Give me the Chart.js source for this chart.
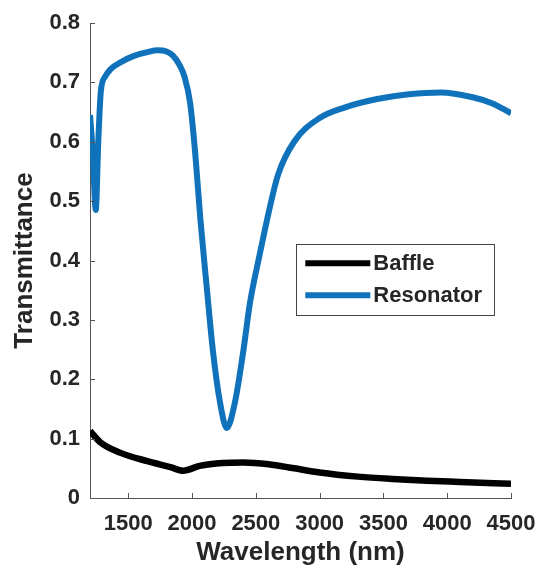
<!DOCTYPE html>
<html>
<head>
<meta charset="utf-8">
<title>Transmittance</title>
<script src="https://cdn.jsdelivr.net/npm/chart.js@4.4.1/dist/chart.umd.min.js"></script>
<style>
  html, body { margin: 0; padding: 0; background: #fff; }
  #wrap { width: 537px; height: 574px; }
</style>
</head>
<body>
<div id="wrap"><canvas id="chart" width="537" height="574"></canvas></div>
<script>
// transmittance spectra, wavelength in nm
const baffleWavelength = [1200, 1280, 1440, 1650, 1830, 1930, 2060, 2240, 2400, 2600, 2800, 3000, 3300, 3570, 3840, 4100, 4500];
const baffleT = [0.113, 0.094, 0.076, 0.062, 0.052, 0.046, 0.054, 0.059, 0.060, 0.057, 0.050, 0.043, 0.036, 0.032, 0.029, 0.027, 0.024];

const resonatorWavelength = [1200, 1222, 1245, 1265, 1285, 1320, 1360, 1450, 1550, 1650, 1730, 1800, 1850, 1900, 1940, 1985, 2025, 2065, 2115, 2165, 2220, 2272, 2335, 2400, 2455, 2530, 2610, 2675, 2800, 3000, 3200, 3450, 3700, 3950, 4200, 4350, 4500];
const resonatorT = [0.645, 0.58, 0.485, 0.60, 0.685, 0.71, 0.722, 0.735, 0.745, 0.751, 0.754, 0.752, 0.745, 0.73, 0.71, 0.665, 0.58, 0.47, 0.355, 0.245, 0.16, 0.118, 0.16, 0.245, 0.33, 0.41, 0.49, 0.545, 0.60, 0.64, 0.658, 0.672, 0.680, 0.683, 0.675, 0.665, 0.648];

const xTicks = [1500, 2000, 2500, 3000, 3500, 4000, 4500];
const yTicks = [0, 0.1, 0.2, 0.3, 0.4, 0.5, 0.6, 0.7, 0.8];
const xRange = [1200, 4500];
const yRange = [0, 0.8];

const FONT = "'Liberation Sans', Arial, Helvetica, sans-serif";
const TEXT = '#262626';
const AXIS = '#555555';
const BLUE = '#0F72BA';

const toPoints = (xs, ys) => xs.map((x, i) => ({ x, y: ys[i] }));

// MATLAB-style tick marks pointing into the plot
const inwardTicks = {
    id: 'inwardTicks',
    afterDatasetsDraw(chart) {
        const { ctx, chartArea: ca, scales: { x, y } } = chart;
        ctx.save();
        ctx.strokeStyle = AXIS;
        ctx.lineWidth = 1;
        ctx.beginPath();
        xTicks.forEach(v => {
            const px = Math.round(x.getPixelForValue(v)) + 0.5;
            ctx.moveTo(px, ca.bottom);
            ctx.lineTo(px, ca.bottom - 5);
        });
        yTicks.forEach(v => {
            const py = Math.round(y.getPixelForValue(v)) + 0.5;
            ctx.moveTo(ca.left, py);
            ctx.lineTo(ca.left + 5, py);
        });
        ctx.stroke();
        ctx.restore();
    }
};

// boxed legend sitting inside the plot area
const boxLegend = {
    id: 'boxLegend',
    afterDraw(chart) {
        const { ctx, chartArea: ca } = chart;
        const sets = chart.data.datasets;
        const left = ca.left + 0.49 * (ca.right - ca.left);
        const top = ca.top + 0.466 * (ca.bottom - ca.top);
        const rowH = 32;
        const lineLen = 65;
        ctx.save();
        ctx.font = `bold 22px ${FONT}`;
        const textW = Math.max(...sets.map(d => ctx.measureText(d.label).width));
        const w = 9 + lineLen + 3 + textW + 12;
        const h = 19 + rowH * (sets.length - 1) + 20;
        ctx.fillStyle = '#fff';
        ctx.fillRect(left, top, w, h);
        ctx.strokeStyle = '#444';
        ctx.lineWidth = 1;
        ctx.strokeRect(Math.round(left) + 0.5, Math.round(top) + 0.5, Math.round(w), Math.round(h));
        sets.forEach((d, i) => {
            const cy = top + 19 + i * rowH;
            ctx.strokeStyle = d.borderColor;
            ctx.lineWidth = 6;
            ctx.beginPath();
            ctx.moveTo(left + 9, cy);
            ctx.lineTo(left + 9 + lineLen, cy);
            ctx.stroke();
            ctx.fillStyle = TEXT;
            ctx.textBaseline = 'middle';
            ctx.textAlign = 'left';
            ctx.fillText(d.label, left + 9 + lineLen + 3, cy + 1);
        });
        ctx.restore();
    }
};

new Chart(document.getElementById('chart'), {
    type: 'line',
    data: {
        datasets: [
            {
                label: 'Baffle',
                data: toPoints(baffleWavelength, baffleT),
                borderColor: '#000000',
                borderWidth: 6.5,
                pointRadius: 0,
                cubicInterpolationMode: 'monotone',
                borderCapStyle: 'butt'
            },
            {
                label: 'Resonator',
                data: toPoints(resonatorWavelength, resonatorT),
                borderColor: BLUE,
                borderWidth: 6,
                pointRadius: 0,
                cubicInterpolationMode: 'monotone',
                borderCapStyle: 'butt'
            }
        ]
    },
    options: {
        responsive: false,
        animation: false,
        layout: { padding: { top: 23, right: 26, bottom: 0, left: 0 } },
        plugins: {
            legend: { display: false },
            tooltip: { enabled: false }
        },
        scales: {
            x: {
                type: 'linear',
                min: xRange[0],
                max: xRange[1],
                afterBuildTicks: s => { s.ticks = xTicks.map(v => ({ value: v })); },
                afterFit: s => { s.height = 76; s.paddingLeft = 0; s.paddingRight = 0; },
                grid: { display: false, drawTicks: false },
                border: { display: true, color: AXIS, width: 1 },
                ticks: {
                    padding: 13,
                    color: TEXT,
                    font: { family: FONT, size: 22, weight: 'bold' },
                    maxRotation: 0,
                    callback: v => String(v)
                },
                title: {
                    display: true,
                    text: 'Wavelength (nm)',
                    color: TEXT,
                    font: { family: FONT, size: 26, weight: 'bold' },
                    padding: { top: 0, bottom: 6 }
                }
            },
            y: {
                type: 'linear',
                min: yRange[0],
                max: yRange[1],
                afterBuildTicks: s => { s.ticks = yTicks.map(v => ({ value: v })); },
                afterFit: s => { s.width = 90; s.paddingTop = 0; s.paddingBottom = 0; },
                grid: { display: false, drawTicks: false },
                border: { display: true, color: AXIS, width: 1 },
                ticks: {
                    padding: 10,
                    color: TEXT,
                    font: { family: FONT, size: 22, weight: 'bold' },
                    callback: v => (v === 0 ? '0' : v.toFixed(1))
                },
                title: {
                    display: true,
                    text: 'Transmittance',
                    color: TEXT,
                    font: { family: FONT, size: 26, weight: 'bold' },
                    padding: { top: 9, bottom: 0 }
                }
            }
        }
    },
    plugins: [inwardTicks, boxLegend]
});
</script>
</body>
</html>
